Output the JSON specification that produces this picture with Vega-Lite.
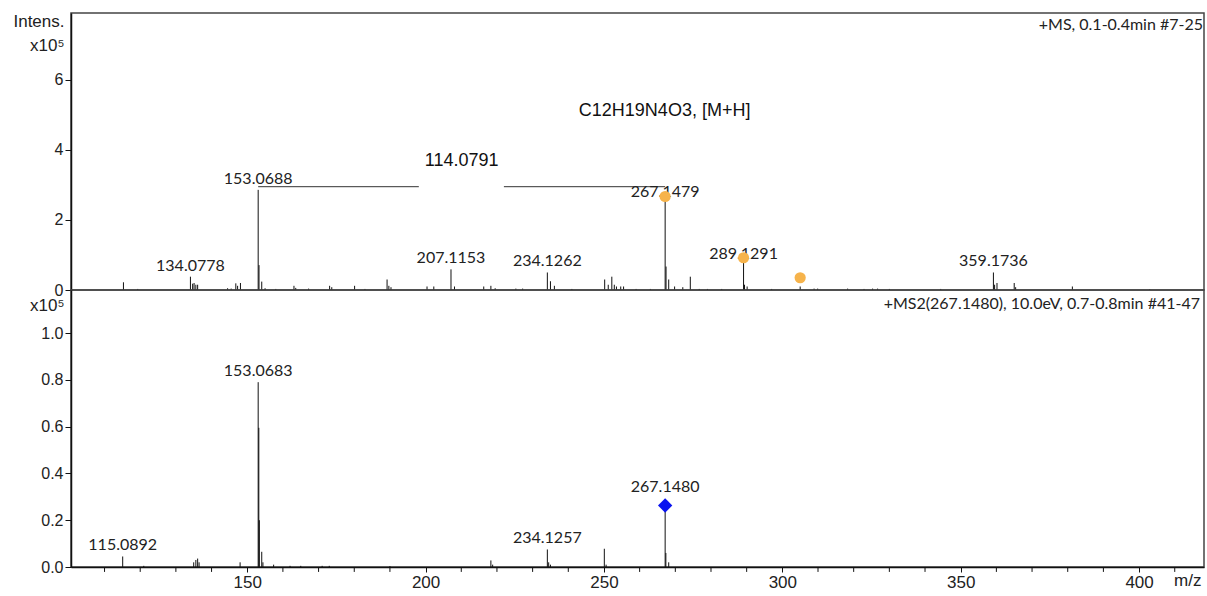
{
  "$schema": "https://vega.github.io/schema/vega-lite/v6.json",
  "background": "white",
  "padding": {"left": 12, "top": 11, "right": 3, "bottom": 5},
  "spacing": 0,
  "bounds": "flush",
  "config": {
    "font": "Liberation Sans",
    "view": {"stroke": "#444444", "strokeWidth": 1.5},
    "axis": {"labelFont": "Liberation Sans", "titleFont": "Liberation Sans", "labelColor": "#222222", "titleColor": "#222222", "domainColor": "#111111", "domainWidth": 1.5, "tickColor": "#111111", "tickWidth": 1, "grid": false, "labelFontSize": 16, "titleFontWeight": "normal", "titleFontSize": 16}
  },
  "datasets": {
    "ms": [
      {"mz": 115.3, "i": 0.22}, {"mz": 119.3, "i": 0.03}, {"mz": 134.08, "i": 0.38}, {"mz": 134.7, "i": 0.18}, {"mz": 135.1, "i": 0.2}, {"mz": 135.6, "i": 0.15}, {"mz": 136.1, "i": 0.15},
      {"mz": 144.5, "i": 0.05}, {"mz": 145.5, "i": 0.04}, {"mz": 146.8, "i": 0.19}, {"mz": 147.3, "i": 0.12}, {"mz": 148.1, "i": 0.2},
      {"mz": 153.07, "i": 2.86}, {"mz": 153.3, "i": 0.71}, {"mz": 154.07, "i": 0.24}, {"mz": 155.0, "i": 0.05}, {"mz": 158.0, "i": 0.03},
      {"mz": 163.1, "i": 0.12}, {"mz": 163.6, "i": 0.06}, {"mz": 167.2, "i": 0.04}, {"mz": 173.1, "i": 0.12}, {"mz": 173.7, "i": 0.08}, {"mz": 180.1, "i": 0.12}, {"mz": 183.0, "i": 0.03},
      {"mz": 189.2, "i": 0.3}, {"mz": 189.7, "i": 0.12}, {"mz": 190.3, "i": 0.08}, {"mz": 200.4, "i": 0.1}, {"mz": 202.3, "i": 0.1},
      {"mz": 207.12, "i": 0.59}, {"mz": 208.1, "i": 0.1}, {"mz": 216.3, "i": 0.1}, {"mz": 218.3, "i": 0.12}, {"mz": 219.5, "i": 0.05}, {"mz": 225.3, "i": 0.04}, {"mz": 227.2, "i": 0.04},
      {"mz": 234.13, "i": 0.5}, {"mz": 235.0, "i": 0.25}, {"mz": 236.1, "i": 0.12}, {"mz": 241.0, "i": 0.03},
      {"mz": 250.2, "i": 0.3}, {"mz": 251.2, "i": 0.15}, {"mz": 252.2, "i": 0.38}, {"mz": 252.9, "i": 0.15}, {"mz": 253.5, "i": 0.1}, {"mz": 254.7, "i": 0.1}, {"mz": 255.5, "i": 0.1}, {"mz": 259.0, "i": 0.03}, {"mz": 263.0, "i": 0.03},
      {"mz": 267.15, "i": 2.67}, {"mz": 267.4, "i": 0.67}, {"mz": 268.15, "i": 0.3}, {"mz": 269.8, "i": 0.1}, {"mz": 272.1, "i": 0.08}, {"mz": 274.2, "i": 0.38}, {"mz": 276.7, "i": 0.03}, {"mz": 279.0, "i": 0.03}, {"mz": 283.0, "i": 0.03},
      {"mz": 289.13, "i": 0.92}, {"mz": 289.4, "i": 0.15}, {"mz": 290.13, "i": 0.1}, {"mz": 297.0, "i": 0.03}, {"mz": 305.0, "i": 0.1}, {"mz": 308.9, "i": 0.04}, {"mz": 309.9, "i": 0.04},
      {"mz": 318.3, "i": 0.04}, {"mz": 322.9, "i": 0.03}, {"mz": 325.3, "i": 0.04}, {"mz": 326.7, "i": 0.04}, {"mz": 330.0, "i": 0.03}, {"mz": 344.4, "i": 0.03},
      {"mz": 359.17, "i": 0.5}, {"mz": 359.5, "i": 0.15}, {"mz": 360.17, "i": 0.2}, {"mz": 365.0, "i": 0.2}, {"mz": 365.4, "i": 0.08}, {"mz": 381.3, "i": 0.1}, {"mz": 403.0, "i": 0.02}
    ],
    "ms2": [
      {"mz": 115.09, "i": 0.045}, {"mz": 121.0, "i": 0.005}, {"mz": 135.0, "i": 0.02}, {"mz": 135.6, "i": 0.03}, {"mz": 136.1, "i": 0.036}, {"mz": 136.5, "i": 0.02}, {"mz": 148.0, "i": 0.02},
      {"mz": 153.07, "i": 0.79}, {"mz": 153.25, "i": 0.595}, {"mz": 153.4, "i": 0.2}, {"mz": 154.07, "i": 0.065}, {"mz": 154.4, "i": 0.02}, {"mz": 157.4, "i": 0.01},
      {"mz": 162.0, "i": 0.005}, {"mz": 165.0, "i": 0.005}, {"mz": 171.0, "i": 0.005}, {"mz": 173.0, "i": 0.005}, {"mz": 190.0, "i": 0.004},
      {"mz": 218.3, "i": 0.028}, {"mz": 218.8, "i": 0.01}, {"mz": 234.13, "i": 0.075}, {"mz": 234.5, "i": 0.02}, {"mz": 235.0, "i": 0.01},
      {"mz": 250.1, "i": 0.078}, {"mz": 250.6, "i": 0.01}, {"mz": 267.15, "i": 0.263}, {"mz": 267.35, "i": 0.06}, {"mz": 268.15, "i": 0.02}
    ],
    "minorTicks": [
      {"t": 110}, {"t": 120}, {"t": 130}, {"t": 140}, {"t": 160}, {"t": 170}, {"t": 180}, {"t": 190},
      {"t": 210}, {"t": 220}, {"t": 230}, {"t": 240}, {"t": 260}, {"t": 270}, {"t": 280}, {"t": 290},
      {"t": 310}, {"t": 320}, {"t": 330}, {"t": 340}, {"t": 360}, {"t": 370}, {"t": 380}, {"t": 390}, {"t": 410}
    ],
    "msLabels": [
      {"mz": 134.08, "i": 0.38, "label": "134.0778", "kind": "plain"},
      {"mz": 153.07, "i": 2.86, "label": "153.0688", "kind": "plain"},
      {"mz": 207.12, "i": 0.59, "label": "207.1153", "kind": "plain"},
      {"mz": 234.13, "i": 0.5, "label": "234.1262", "kind": "plain"},
      {"mz": 267.15, "i": 2.67, "label": "267.1479", "kind": "marked"},
      {"mz": 289.13, "i": 0.92, "label": "289.1291", "kind": "marked"},
      {"mz": 359.17, "i": 0.5, "label": "359.1736", "kind": "plain"}
    ],
    "ms2Labels": [
      {"mz": 115.09, "i": 0.045, "label": "115.0892", "kind": "plain"},
      {"mz": 153.07, "i": 0.79, "label": "153.0683", "kind": "plain"},
      {"mz": 234.13, "i": 0.075, "label": "234.1257", "kind": "plain"},
      {"mz": 267.15, "i": 0.263, "label": "267.1480", "kind": "marked"}
    ],
    "isotopes": [
      {"mz": 267.15, "i": 2.67}, {"mz": 289.13, "i": 0.92}, {"mz": 305.0, "i": 0.35}
    ],
    "precursor": [
      {"mz": 267.15, "i": 0.263}
    ],
    "bracket": [
      {"from": 153.07, "to": 198.1, "i": 2.95},
      {"from": 221.95, "to": 267.15, "i": 2.95}
    ],
    "msNotes": [
      {"mz": 267.0, "i": 5.1, "note": "C12H19N4O3, [M+H]", "kind": "formula"},
      {"mz": 210.1, "i": 3.67, "note": "114.0791", "kind": "loss"},
      {"mz": 418.2, "i": 7.57, "note": "+MS, 0.1-0.4min #7-25", "kind": "scan"}
    ],
    "ms2Notes": [
      {"mz": 418.2, "i": 1.125, "note": "+MS2(267.1480), 10.0eV, 0.7-0.8min #41-47", "kind": "scan"}
    ]
  },
  "vconcat": [
    {
      "width": 1133,
      "height": 277,
      "layer": [
        {
          "data": {"name": "ms"},
          "mark": {"type": "rule", "color": "#111111", "strokeWidth": 1},
          "encoding": {
            "x": {"field": "mz", "type": "quantitative", "scale": {"domain": [100.6, 418.2], "nice": false, "zero": false}, "axis": null},
            "y": {"field": "i", "type": "quantitative", "scale": {"domain": [0, 7.91], "nice": false},
              "axis": {"values": [0, 1, 2, 3, 4, 5, 6, 7], "labelExpr": "datum.value % 2 === 0 ? datum.label : ' '", "tickSize": {"condition": {"test": "datum.value % 2 === 0", "value": 6}, "value": 4}, "labelPadding": 2,
                "title": ["Intens.", "x10⁵"], "titleAngle": 0, "titleAlign": "right", "titleBaseline": "top", "titleX": -7, "titleY": 0, "titleLineHeight": 24, "titleFontSize": 17}},
            "y2": {"datum": 0}
          }
        },
        {
          "data": {"name": "bracket"},
          "mark": {"type": "rule", "color": "#333333", "strokeWidth": 1},
          "encoding": {
            "x": {"field": "from", "type": "quantitative"},
            "x2": {"field": "to"},
            "y": {"field": "i", "type": "quantitative"}
          }
        },
        {
          "data": {"name": "msLabels"},
          "transform": [{"filter": "datum.kind === 'plain'"}],
          "mark": {"type": "text", "font": "Lato", "fontSize": 16, "color": "#222222", "baseline": "alphabetic", "dy": -6},
          "encoding": {
            "x": {"field": "mz", "type": "quantitative"},
            "y": {"field": "i", "type": "quantitative"},
            "text": {"field": "label"}
          }
        },
        {
          "data": {"name": "msLabels"},
          "transform": [{"filter": "datum.kind === 'marked'"}],
          "mark": {"type": "text", "font": "Lato", "fontSize": 16, "color": "#222222", "baseline": "alphabetic", "dy": 1},
          "encoding": {
            "x": {"field": "mz", "type": "quantitative"},
            "y": {"field": "i", "type": "quantitative"},
            "text": {"field": "label"}
          }
        },
        {
          "data": {"name": "isotopes"},
          "mark": {"type": "point", "shape": "circle", "filled": true, "size": 125, "color": "#F6B34B", "opacity": 1},
          "encoding": {
            "x": {"field": "mz", "type": "quantitative"},
            "y": {"field": "i", "type": "quantitative"}
          }
        },
        {
          "data": {"name": "msNotes"},
          "transform": [{"filter": "datum.kind !== 'scan'"}],
          "mark": {"type": "text", "font": "Liberation Sans", "fontSize": 18, "color": "#111111", "baseline": "middle", "align": "center"},
          "encoding": {
            "x": {"field": "mz", "type": "quantitative"},
            "y": {"field": "i", "type": "quantitative"},
            "text": {"field": "note"}
          }
        },
        {
          "data": {"name": "msNotes"},
          "transform": [{"filter": "datum.kind === 'scan'"}],
          "mark": {"type": "text", "font": "Lato", "fontSize": 16, "color": "#222222", "baseline": "middle", "align": "right", "dx": -1},
          "encoding": {
            "x": {"field": "mz", "type": "quantitative"},
            "y": {"field": "i", "type": "quantitative"},
            "text": {"field": "note"}
          }
        }
      ]
    },
    {
      "width": 1133,
      "height": 277,
      "layer": [
        {
          "data": {"name": "ms2"},
          "mark": {"type": "rule", "color": "#111111", "strokeWidth": 1},
          "encoding": {
            "x": {"field": "mz", "type": "quantitative", "scale": {"domain": [100.6, 418.2], "nice": false, "zero": false},
              "axis": {"values": [150, 200, 250, 300, 350, 400], "labelOverlap": false, "labelFontSize": 17, "tickSize": 5, "labelPadding": 2,
                "title": "m/z", "titleAnchor": "end", "titleAlign": "right", "titleX": 1130, "titleY": 5, "titleBaseline": "top", "titleFontSize": 17}},
            "y": {"field": "i", "type": "quantitative", "scale": {"domain": [0, 1.184], "nice": false},
              "axis": {"values": [0, 0.1, 0.2, 0.3, 0.4, 0.5, 0.6, 0.7, 0.8, 0.9, 1.0, 1.1], "labelExpr": "round(datum.value * 10) % 2 === 0 ? format(datum.value, '.1f') : ' '", "tickSize": {"condition": {"test": "round(datum.value * 10) % 2 === 0", "value": 6}, "value": 4}, "labelPadding": 2,
                "title": "x10⁵", "titleAngle": 0, "titleAlign": "right", "titleBaseline": "middle", "titleX": -7, "titleY": 15, "titleFontSize": 17}},
            "y2": {"datum": 0}
          }
        },
        {
          "data": {"name": "minorTicks"},
          "mark": {"type": "rule", "color": "#111111", "strokeWidth": 1},
          "encoding": {
            "x": {"field": "t", "type": "quantitative"},
            "y": {"datum": 0},
            "y2": {"datum": -0.021}
          }
        },
        {
          "data": {"name": "ms2Labels"},
          "transform": [{"filter": "datum.kind === 'plain'"}],
          "mark": {"type": "text", "font": "Lato", "fontSize": 16, "color": "#222222", "baseline": "alphabetic", "dy": -6},
          "encoding": {
            "x": {"field": "mz", "type": "quantitative"},
            "y": {"field": "i", "type": "quantitative"},
            "text": {"field": "label"}
          }
        },
        {
          "data": {"name": "ms2Labels"},
          "transform": [{"filter": "datum.kind === 'marked'"}],
          "mark": {"type": "text", "font": "Lato", "fontSize": 16, "color": "#222222", "baseline": "alphabetic", "dy": -13},
          "encoding": {
            "x": {"field": "mz", "type": "quantitative"},
            "y": {"field": "i", "type": "quantitative"},
            "text": {"field": "label"}
          }
        },
        {
          "data": {"name": "precursor"},
          "mark": {"type": "point", "shape": "diamond", "filled": true, "size": 205, "color": "#0A14F0", "opacity": 1},
          "encoding": {
            "x": {"field": "mz", "type": "quantitative"},
            "y": {"field": "i", "type": "quantitative"}
          }
        },
        {
          "data": {"name": "ms2Notes"},
          "mark": {"type": "text", "font": "Lato", "fontSize": 16, "color": "#222222", "baseline": "middle", "align": "right", "dx": -4},
          "encoding": {
            "x": {"field": "mz", "type": "quantitative"},
            "y": {"field": "i", "type": "quantitative"},
            "text": {"field": "note"}
          }
        }
      ]
    }
  ]
}
